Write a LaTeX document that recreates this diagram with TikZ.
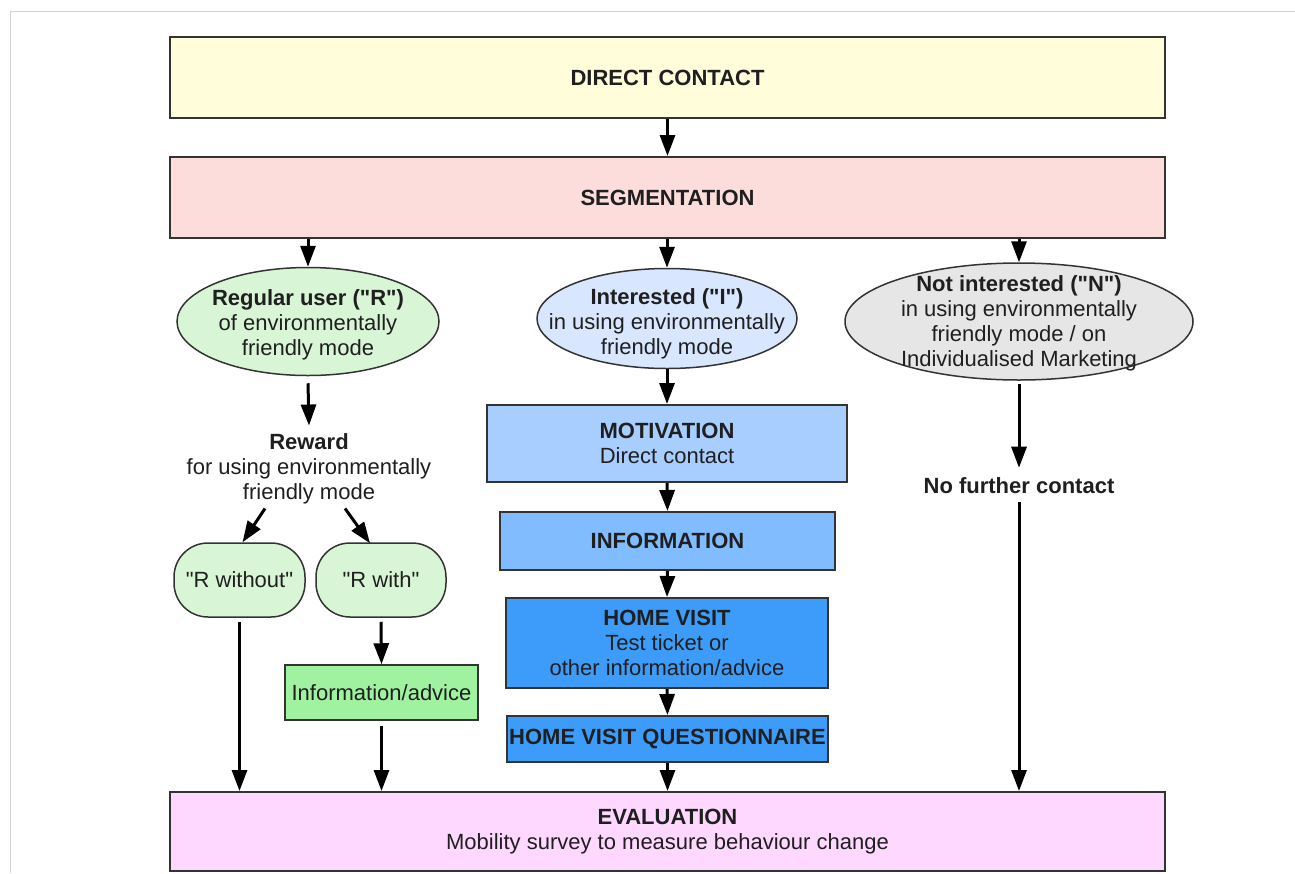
\documentclass[tikz,border=0pt]{standalone}
\usepackage{fontspec}
\setmainfont{Liberation Sans}[Ligatures=TeXOff]
\usetikzlibrary{shapes.geometric,arrows.meta}
\definecolor{cyellow}{HTML}{FFFDDA}
\definecolor{cpink}{HTML}{FDDCDC}
\definecolor{cgreenl}{HTML}{D8F6D6}
\definecolor{cbluel}{HTML}{D8E7FF}
\definecolor{cgrey}{HTML}{E6E6E6}
\definecolor{cmot}{HTML}{A8CDFF}
\definecolor{cinf}{HTML}{80BCFF}
\definecolor{chv}{HTML}{3D9CFA}
\definecolor{cgreen}{HTML}{A0F2A0}
\definecolor{ceval}{HTML}{FED8FE}
\definecolor{cline}{HTML}{333333}
\tikzset{
  txt/.style={font=\fontsize{22}{25}\selectfont, align=center, inner sep=0pt, text=black!88},
  box/.style={txt, draw=cline, line width=2pt, rectangle},
  oval/.style={draw=cline, line width=1.5pt, ellipse, inner sep=0pt},
  pill/.style={txt, draw=cline, line width=1.5pt, rectangle, rounded corners=34pt},
  arr/.style={line width=3pt, -{Triangle[length=21pt,width=15pt]}, black},
}
\begin{document}
\begin{tikzpicture}[x=1pt,y=-1pt]
\useasboundingbox[fill=white] (0,0) rectangle (1295,873);
\draw[black!18, line width=1pt] (10,873) -- (10,11) -- (1295,11);

% top boxes
\node[box, fill=cyellow, minimum width=995pt, minimum height=81pt] (dc) at (667.5,77.5) {\textbf{DIRECT CONTACT}};
\node[box, fill=cpink, minimum width=995pt, minimum height=81pt] (seg) at (667.5,197.5) {\textbf{SEGMENTATION}};

% ellipses
\node[oval, fill=cgreenl, minimum width=262pt, minimum height=108pt] (reg) at (308,321.5) {};
\node[txt] (regt) at (308,325) {\textbf{Regular user ("R")}\\of environmentally\\friendly mode};
\node[oval, fill=cbluel, minimum width=260pt, minimum height=100pt] (int) at (667,318.5) {};
\node[txt] (intt) at (667,324) {\textbf{Interested ("I")}\\in using environmentally\\friendly mode};
\node[oval, fill=cgrey, minimum width=348pt, minimum height=117pt] (not) at (1019,321.5) {};
\node[txt] (nott) at (1019,323) {\textbf{Not interested ("N")}\\in using environmentally\\friendly mode / on\\Individualised Marketing};

% left branch
\node[txt] (rew) at (309,469) {\textbf{Reward}\\for using environmentally\\friendly mode};
\node[pill, fill=cgreenl, minimum width=131pt, minimum height=74pt] (rwo) at (239.5,580) {"R without"};
\node[pill, fill=cgreenl, minimum width=130pt, minimum height=74pt] (rw) at (381,580) {"R with"};
\node[box, fill=cgreen, line width=1.5pt, minimum width=193pt, minimum height=55pt] (ia) at (381.5,692.5) {Information/advice};

% middle branch
\node[box, fill=cmot, minimum width=360pt, minimum height=77pt] (mot) at (667,443.5) {\textbf{MOTIVATION}\\Direct contact};
\node[box, fill=cinf, minimum width=335pt, minimum height=58pt] (inf) at (667.5,541) {\textbf{INFORMATION}};
\node[box, fill=chv, minimum width=322pt, minimum height=90pt] (hv) at (667,643) {\textbf{HOME VISIT}\\Test ticket or\\other information/advice};
\node[box, fill=chv, minimum width=321pt, minimum height=46pt] (hvq) at (667.5,739) {\textbf{HOME VISIT QUESTIONNAIRE}};

% right branch
\node[txt] (nfc) at (1019,486) {\textbf{No further contact}};

% evaluation
\node[box, fill=ceval, minimum width=995pt, minimum height=79pt] (ev) at (667.5,831.5) {\textbf{EVALUATION}\\Mobility survey to measure behaviour change};

% connectors
\draw[arr] (dc.south) -- (seg.north);
\draw[arr] (seg.south -| reg.north) -- (reg.north);
\draw[arr] (seg.south -| int.north) -- (int.north);
\draw[arr] (seg.south -| not.north) -- (not.north);
\draw[arr] ([yshift=-7pt]reg.south) -- ([yshift=8pt]rew.north);
\draw[arr] ([xshift=-44pt,yshift=-4pt]rew.south) -- ([xshift=3pt]rwo.north);
\draw[arr] ([xshift=36pt,yshift=-4pt]rew.south) -- ([xshift=-11pt,yshift=-1pt]rw.north);
\draw[arr] ([yshift=-4pt]rw.south) -- (ia.north);
\draw[arr] ([yshift=-4pt]rwo.south) -- (rwo.south |- ev.north);
\draw[arr] ([yshift=-5pt]ia.south) -- (ia.south |- ev.north);
\draw[arr] (int.south) -- (mot.north);
\draw[arr] (mot.south) -- (inf.north);
\draw[arr] (inf.south) -- (hv.north);
\draw[arr] (hv.south) -- (hvq.north);
\draw[arr] (hvq.south) -- (hvq.south |- ev.north);
\draw[arr] ([yshift=-3pt]not.south) -- ([yshift=10pt]nfc.north);
\draw[arr] ([yshift=-8pt]nfc.south) -- (nfc.south |- ev.north);
\end{tikzpicture}
\end{document}
